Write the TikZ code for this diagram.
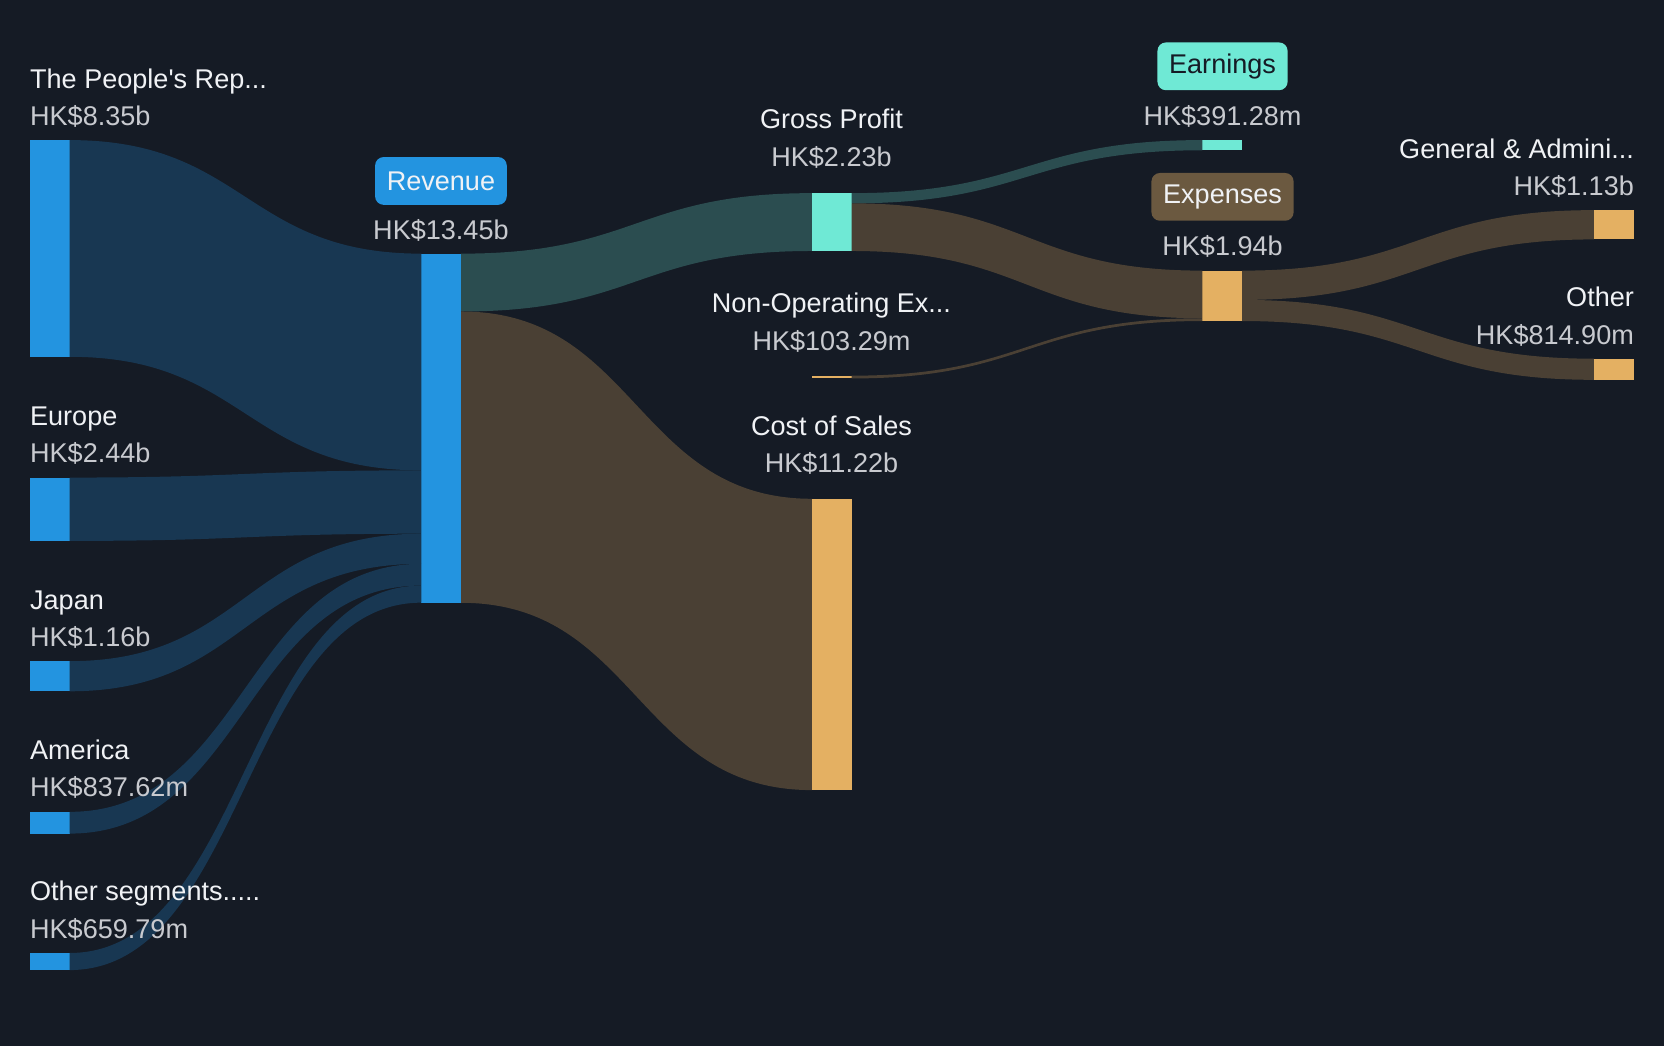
\documentclass[tikz,border=0pt]{standalone}
\usepackage{fontspec}
\setmainfont{Liberation Sans}
\usetikzlibrary{calc}

\definecolor{bg}{RGB}{21,27,37}
\definecolor{barblue}{RGB}{35,148,224}
\definecolor{flowblue}{RGB}{24,55,82}
\definecolor{barteal}{RGB}{111,233,213}
\definecolor{flowteal}{RGB}{43,77,80}
\definecolor{bargold}{RGB}{228,176,98}
\definecolor{flowbrown}{RGB}{74,64,52}
\definecolor{tagbrown}{RGB}{107,89,64}
\definecolor{lblc}{RGB}{240,242,245}
\definecolor{valc}{RGB}{200,202,207}

\tikzset{
    sbar/.style={fill=#1, inner sep=0pt, outer sep=0pt, minimum width=18.75pt, anchor=north west},
    lbl/.style={text=lblc, inner sep=0pt, font=\fontsize{12.75}{15}\selectfont},
    val/.style={text=valc, inner sep=0pt, font=\fontsize{12.75}{15}\selectfont},
    tag/.style={fill=#1, rounded corners=4pt, inner xsep=5.5pt, inner ysep=0pt, minimum height=22.5pt, font=\fontsize{12.75}{15}\selectfont}
}

% band from (src) to (tgt): #2/#4 nodes, #3/#5 offsets from top, #6 thickness
\newcommand\flow[6]{%
    \fill[#1] let \p1=($(#2.north east)+(0,#3)$), \p2=($(#4.north west)+(0,#5)$), \n1={#6*0.5} in
        (\x1,\y1) .. controls ({(\x1+\x2)/2},\y1) and ({(\x1+\x2)/2},\y2) .. (\x2,\y2)
        -- (\x2,{\y2-\n1}) .. controls ({(\x1+\x2)/2},{\y2-\n1}) and ({(\x1+\x2)/2},{\y1-\n1}) .. (\x1,{\y1-\n1}) -- cycle;}

\begin{document}
\begin{tikzpicture}[x=0.5pt, y=-0.5pt]
    \fill[bg] (0,0) rectangle (1568,986);
    \useasboundingbox (0,0) rectangle (1568,986);

    % bars
    \foreach \id/\y/\h in {ppl/132/204.2, eur/450/59.7, jpn/623/28.4, ame/765/20.5, oth/898/16.1}
    {
        \node[sbar=barblue, minimum height=\h*0.5pt] (\id) at (28,\y) {};
    }
    \node[sbar=barblue, minimum height=164.5pt] (rev) at (397,239) {};
    \node[sbar=barteal, minimum height=27.25pt] (gp) at (765,182) {};
    \node[sbar=bargold, minimum height=1.25pt] (nonop) at (765,354) {};
    \node[sbar=bargold, minimum height=137.25pt] (cos) at (765,470) {};
    \node[sbar=barteal, minimum height=4.8pt] (earn) at (1133,132) {};
    \node[sbar=bargold, minimum height=23.75pt] (exp) at (1133,255) {};
    \node[sbar=bargold, minimum height=13.8pt] (ga) at (1502,198) {};
    \node[sbar=bargold, minimum height=9.95pt] (othx) at (1502,338) {};

    % flows
    \flow{flowblue}{ppl}{0}{rev}{0}{204.2}
    \flow{flowblue}{eur}{0}{rev}{204.2}{59.7}
    \flow{flowblue}{jpn}{0}{rev}{263.9}{28.4}
    \flow{flowblue}{ame}{0}{rev}{292.3}{20.5}
    \flow{flowblue}{oth}{0}{rev}{312.8}{16.1}
    \flow{flowteal}{rev}{0}{gp}{0}{54.5}
    \flow{flowbrown}{rev}{54.5}{cos}{0}{274.5}
    \flow{flowteal}{gp}{0}{earn}{0}{9.6}
    \flow{flowbrown}{gp}{9.6}{exp}{0}{44.9}
    \flow{flowbrown}{nonop}{0}{exp}{44.9}{2.6}
    \flow{flowbrown}{exp}{0}{ga}{0}{27.6}
    \flow{flowbrown}{exp}{27.6}{othx}{0}{19.9}

    % labels
    \foreach \id/\y/\name/\v in {ppl/132/{The People\textquotesingle s Rep...}/8.35b, eur/450/Europe/2.44b, jpn/623/Japan/1.16b, ame/765/America/837.62m, oth/898/{Other segments.....}/659.79m}
    {
        \node[lbl, anchor=base west] (\id-l) at (28,\y-49) {\name};
        \node[val, anchor=base west] (\id-v) at (28,\y-14) {HK\$\v};
    }
    \node[tag=barblue, text=lblc] (rev-l) at (415.5,170.5) {Revenue};
    \node[val, anchor=base] (rev-v) at (415.5,226) {HK\$13.45b};

    \node[lbl, anchor=base] (gp-l) at (783.5,121) {Gross Profit};
    \node[val, anchor=base] (gp-v) at (783.5,157) {HK\$2.23b};
    \node[lbl, anchor=base] (nonop-l) at (783.5,294) {Non-Operating Ex...};
    \node[val, anchor=base] (nonop-v) at (783.5,330) {HK\$103.29m};
    \node[lbl, anchor=base] (cos-l) at (783.5,410) {Cost of Sales};
    \node[val, anchor=base] (cos-v) at (783.5,445) {HK\$11.22b};

    \node[tag=barteal, text=bg] (earn-l) at (1152,62.5) {Earnings};
    \node[val, anchor=base] (earn-v) at (1152,118) {HK\$391.28m};
    \node[tag=tagbrown, text=lblc] (exp-l) at (1152,185.5) {Expenses};
    \node[val, anchor=base] (exp-v) at (1152,241) {HK\$1.94b};

    \node[lbl, anchor=base east] (ga-l) at (1540,149) {General \& Admini...};
    \node[val, anchor=base east] (ga-v) at (1540,184) {HK\$1.13b};
    \node[lbl, anchor=base east] (othx-l) at (1540,289) {Other};
    \node[val, anchor=base east] (othx-v) at (1540,325) {HK\$814.90m};
\end{tikzpicture}
\end{document}
